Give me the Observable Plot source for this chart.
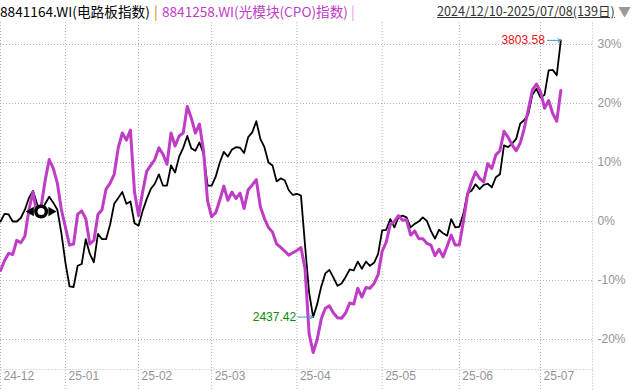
<!DOCTYPE html>
<html><head><meta charset="utf-8">
<script src="https://cdn.jsdelivr.net/npm/d3@7"></script>
<script src="https://cdn.jsdelivr.net/npm/@observablehq/plot@0.6"></script>
<style>
body{margin:0;background:#fff;width:636px;height:390px;overflow:hidden;font-family:"Noto Sans CJK SC","Noto Sans",sans-serif;}
#hdr{position:relative;height:22px;font-size:14px;line-height:22px;white-space:nowrap;}
#hdr span{position:absolute;top:0;}
#chart svg{display:block;}
</style></head><body>
<div id="hdr"></div>
<div id="chart"></div>
<script>
// ---- data ----
const seriesNames = ["8841164.WI(电路板指数)", "8841258.WI(光模块(CPO)指数)"];
const rangeLabel = "2024/12/10-2025/07/08(139日)";
const monthTickIndex = [0, 16, 34, 52, 73, 94, 113, 133];
const monthLabels = ["24-12", "25-01", "25-02", "25-03", "25-04", "25-05", "25-06", "25-07"];
const yTicks = [-20, -10, 0, 10, 20, 30];
// percent change from 2024/12/10, one value per trading day
const circuitBoard = [
  0, 1.3, 1.2, 0, 0, 0.6, 2, 4, 5.2, 3,
  1.7, 3, 4.2, 3.2, 2, -2, -7, -11, -11.1, -7.5,
  -7.2, -3, -5.5, -6.9, -2.1, -3, -3, -0.5, 3, 4,
  5, 3, 3.4, -0.3, -0.7, 1.8, 3.8, 5.5, 6.4, 8,
  6.1, 6.1, 9.5, 8.3, 11, 12.5, 14.5, 12.4, 12, 13.4,
  11.5, 6.1, 6.1, 7.6, 10, 11.8, 11, 12.2, 12.6, 12.5,
  11.6, 14.3, 15.1, 17, 14, 12.6, 10, 9.5, 6.8, 7.3,
  7, 5.3, 4.5, 4.7, 4.4, -4, -12, -16.2, -14, -11,
  -8.8, -8.2, -9.5, -10.9, -10.5, -9.4, -8.1, -8.3, -6.8, -8,
  -6.8, -7.5, -7, -5.5, -1.5, -1.4, 0.4, -1, 0.7, 1.0,
  0.7, -1, -0.4, 0, 0.7, 0.1, -1.6, -2.9, -1.4, -2,
  -2.4, 0.4, -1, -0.9, 1.3, 4.8, 5.2, 6.3, 5.5, 6.2,
  6.4, 5.8, 7.5, 8, 12.9, 12.6, 13.2, 14, 16.6, 17.2,
  18.2, 21.5, 22.5, 21, 21.5, 25.6, 25.7, 24.8, 30.7
];
const cpo = [
  -8.3, -6.6, -5.4, -5.6, -3.2, -3.6, -2.5, 2, 5, 1,
  2.5, 7, 10.5, 9, 6.5, 2, -1, -4, -3.8, 1.2,
  1.8, 0.5, -3.8, -3.2, 1.2, 2, 5.5, 6.5, 8, 12.5,
  15, 13.8, 15.5, 5, 1, 5, 8.5, 9.5, 10.5, 12.5,
  11.4, 9.7, 15, 12.8, 14.5, 15, 19.5, 17.5, 15, 16.5,
  12, 3.5, 0.8, 1.5, 3.6, 6, 3.6, 5, 3.9, 4.8,
  2.2, 5.4, 6.2, 7.1, 2.5, 0.5, -1, -1.8, -3.8, -4.4,
  -5, -5.7, -5.3, -4.9, -4.4, -8, -19, -22.2, -20, -16.5,
  -14.7, -14.3, -15.5, -16.3, -16.4, -15.5, -13.8, -14, -11.3, -12.8,
  -11.2, -11.3, -10.5, -9, -5, -3.5, -0.5, 0, 1, 0.2,
  0.3, -2.3, -1.6, -2.9, -2.9, -3.7, -4, -5.8, -4.7, -6,
  -4.2, -2.3, -4, -4, 0, 4.5, 6.7, 8.4, 7.3, 6.7,
  9.8, 9, 11.3, 12, 15.3, 14.3, 13, 12, 13.3, 15.8,
  19, 22.3, 23.3, 22, 19.2, 20.5, 18.3, 17, 22.2
];
const maxLabel = "3803.58";
const minLabel = "2437.42";
const markerIndex = 10;

// ---- header ----
const hdr = document.getElementById("hdr");
const parts = [
  {t: seriesNames[0], c: "#000", l: 0, w: 150},
  {t: "|", c: "#e08400", l: 154},
  {t: seriesNames[1], c: "#c03cc8", l: 162, w: 186},
  {t: "|", c: "#e895e8", l: 351},
  {t: rangeLabel, c: "#333", l: 437, u: true, w: 178},
  {t: "▼", c: "#9a9a9a", l: 618, fs: 13}
];
for (const p of parts) {
  const s = document.createElement("span");
  s.textContent = p.t; s.style.color = p.c; s.style.left = p.l + "px";
  if (p.u) s.style.textDecoration = "underline";
  if (p.fs) s.style.fontSize = p.fs + "px";
  hdr.appendChild(s);
  if (p.w) {
    const w = s.getBoundingClientRect().width;
    s.style.fontSize = (14 * p.w / w).toFixed(2) + "px";
  }
}

// ---- chart ----
const bRows = circuitBoard.map((v, i) => ({i, v}));
const mRows = cpo.map((v, i) => ({i, v}));
const lastI = circuitBoard.length - 1;
const minI = d3.minIndex(circuitBoard);
const yDom = [-25.08, 33.73];
const grid = "#b4b4b4";
const plot = Plot.plot({
  width: 636, height: 368,
  marginTop: 0, marginBottom: 21, marginLeft: 0, marginRight: 44,
  x: {domain: [0, 145.8], axis: null},
  y: {domain: yDom, axis: null},
  style: {background: "transparent", overflow: "visible"},
  marks: [
    Plot.ruleY(yTicks, {stroke: grid, strokeDasharray: "1,2"}),
    Plot.ruleX(monthTickIndex, {stroke: grid, strokeDasharray: "1,2", insetBottom: -21}),
    Plot.frame({anchor: "right", stroke: "#dcdcdc", strokeDasharray: "1,2", insetBottom: -21}),
    Plot.frame({anchor: "bottom", stroke: "#dcdcdc", strokeDasharray: "1,2"}),
    Plot.text(yTicks, {y: d => d, text: d => d + "%", frameAnchor: "right", dx: 5, textAnchor: "start",
      fill: "#949494", fontSize: 12, fontFamily: "Liberation Sans, Arial, sans-serif"}),
    Plot.text(monthTickIndex, {x: d => d, text: (d, k) => monthLabels[k], frameAnchor: "bottom", dy: 10, dx: 3,
      textAnchor: "start", fill: "#949494", fontSize: 12, fontFamily: "Liberation Sans, Arial, sans-serif"}),
    Plot.line(bRows, {x: "i", y: "v", stroke: "#000", strokeWidth: 1.8}),
    Plot.line(mRows, {x: "i", y: "v", stroke: "#bf3cc6", strokeWidth: 3}),
    Plot.arrow([bRows[lastI]], {x1: d => d.i - 3.3, x2: "i", y1: "v", y2: "v", stroke: "#3a9bc8", strokeWidth: 1, headLength: 5}),
    Plot.text([bRows[lastI]], {x: "i", y: "v", text: () => maxLabel, textAnchor: "end", dx: -16,
      fill: "#e8101a", fontSize: 12, fontFamily: "Liberation Sans, Arial, sans-serif"}),
    Plot.arrow([bRows[minI]], {x1: d => d.i - 3.8, x2: "i", y1: "v", y2: "v", stroke: "#3a9bc8", strokeWidth: 1, headLength: 5}),
    Plot.text([bRows[minI]], {x: "i", y: "v", text: () => minLabel, textAnchor: "end", dx: -17,
      fill: "#0b8a0b", fontSize: 12, fontFamily: "Liberation Sans, Arial, sans-serif"}),
    Plot.dot([bRows[markerIndex]], {x: "i", y: "v", symbol: "triangle", r: 3.5, fill: "#000", rotate: -90, dx: -10}),
    Plot.dot([bRows[markerIndex]], {x: "i", y: "v", symbol: "triangle", r: 3.5, fill: "#000", rotate: 90, dx: 10}),
    Plot.dot([bRows[markerIndex]], {x: "i", y: "v", r: 5.3, fill: "#fff", stroke: "#000", strokeWidth: 3.5})
  ]
});
document.getElementById("chart").appendChild(plot);
</script>
</body></html>
